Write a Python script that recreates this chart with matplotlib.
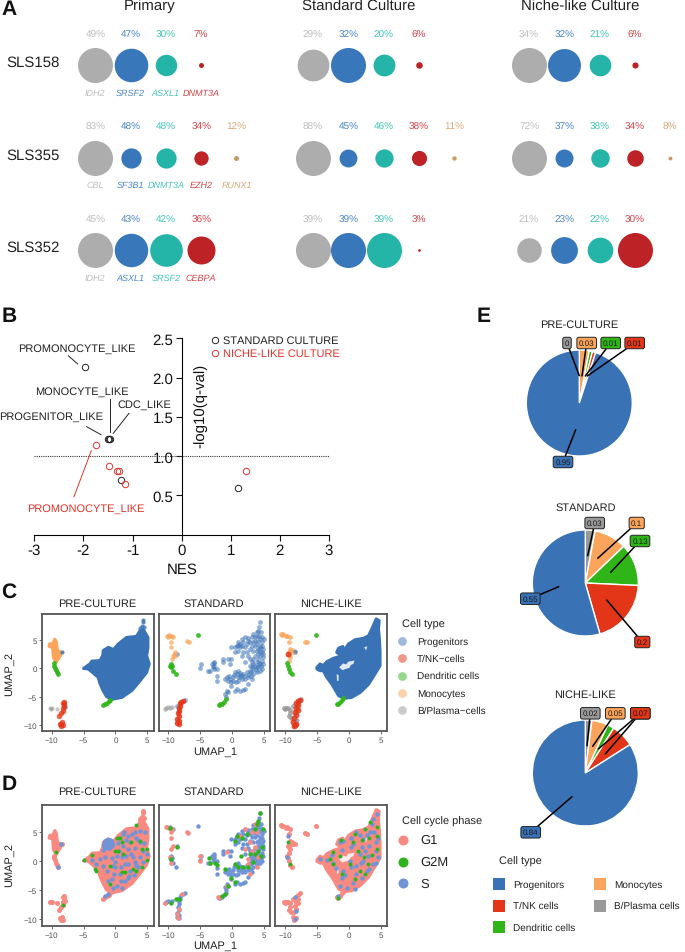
import matplotlib
matplotlib.use("Agg")
import matplotlib.pyplot as plt
from matplotlib.patches import Rectangle

plt.rcParams["font.family"] = ["Liberation Sans", "DejaVu Sans"]
plt.rcParams["axes.unicode_minus"] = False
plt.rcParams["text.hinting"] = "no_hinting"
plt.rcParams["text.hinting_factor"] = 1

W, H = 685, 953

# panel A
samples = ["SLS158", "SLS355", "SLS352"]
conditions = ["Primary", "Standard Culture", "Niche-like Culture"]
genes = [["IDH2", "SRSF2", "ASXL1", "DNMT3A"],
         ["CBL", "SF3B1", "DNMT3A", "EZH2", "RUNX1"],
         ["IDH2", "ASXL1", "SRSF2", "CEBPA"]]
vaf_primary = [[49, 47, 30, 7], [83, 48, 48, 34, 12], [45, 43, 42, 36]]
vaf_standard = [[29, 32, 20, 6], [88, 45, 46, 38, 11], [39, 39, 39, 3]]
vaf_niche = [[34, 32, 21, 6], [72, 37, 38, 34, 8], [21, 23, 22, 30]]

# panel B
std_nes = [-1.97, -1.5, -1.47, -1.45, -1.23, 1.15]
std_q = [2.14, 1.22, 1.22, 1.22, 0.69, 0.6]
niche_nes = [-1.74, -1.48, -1.31, -1.27, -1.16, 1.31]
niche_q = [1.14, 0.88, 0.81, 0.81, 0.65, 0.81]

# panels C and D, umap outlines and cells
pre_prog_outline = [(-5.0, 0.0), (-4.0, 0.8), (-3.7, 1.3), (-2.4, 1.4), (-2.0, 2.3), (-1.9, 3.2), (-1.1, 3.75),
                    (-0.3, 3.35), (0.45, 4.35), (1.75, 5.5), (3.3, 5.7), (3.85, 6.7), (4.4, 6.9), (5.1, 5.5),
                    (5.1, 3.75), (4.9, 2.25), (5.3, 0.8), (4.9, -0.7), (3.85, -2.2), (2.6, -3.9), (1.0, -5.15),
                    (-0.6, -5.5), (-1.4, -5.0), (-2.0, -3.8), (-2.45, -2.6), (-2.7, -1.6), (-3.5, -0.8), (-4.25, -0.1)]
pre_prog_cells = [(4.4, 8.6), (4.3, 8.2), (4.2, 7.6), (3.9, 7.2), (4.5, 7.3), (-8.4, 2.9), (-7.9, -6.9)]
pre_mono_outline = [(-9.5, 5.2), (-9.25, 4.65), (-9.1, 3.15), (-8.4, 2.85), (-8.8, 1.95), (-9.3, 1.1), (-9.75, 1.95),
                    (-9.85, 3.75), (-10.4, 3.9), (-10.3, 4.4), (-9.85, 4.35)]
pre_dc_cells = [(-9.65, 0.9), (-9.7, 0.5), (-9.55, 0.1), (-9.4, -0.3), (-9.2, -0.7), (-9.0, -1.0),
                (-1.9, -6.5), (-1.6, -6.3), (-1.3, -6.1), (-1.0, -5.8), (-0.8, -5.6)]
pre_tnk_cells = [(-8.0, -6.0), (-8.3, -6.2), (-8.0, -6.6), (-8.2, -7.1), (-8.3, -7.6), (-8.5, -8.0), (-8.8, -8.4),
                 (-8.4, -9.6), (-8.7, -9.9), (-8.3, -10.1), (-8.6, -10.2), (-8.1, -6.3), (-8.5, -9.8)]
pre_b_cells = [(-10.3, -7.1), (-10.0, -7.0), (-10.15, -7.15), (-9.1, -7.2)]

std_prog_cells = [(4.4, 8.2), (4.2, 7.3), (4.1, 6.7), (3.85, 6.4), (4.55, 6.4), (4.75, 5.5), (5.05, 5.2), (4.2, 5.8),
                  (3.6, 5.5), (3.35, 6.1), (3.1, 5.5), (2.55, 5.35), (2.0, 5.5), (1.5, 5.2), (1.0, 4.65), (0.7, 4.05),
                  (0.45, 3.75), (-0.2, 3.75), (1.25, 4.35), (1.75, 4.65), (2.3, 4.35), (2.8, 4.65), (3.6, 4.9),
                  (4.1, 4.9), (4.65, 4.65), (4.4, 4.05), (4.9, 3.45), (4.65, 2.85), (4.1, 3.45), (3.6, 4.05),
                  (3.85, 3.15), (4.4, 2.25), (4.9, 2.0), (4.65, 1.4), (4.1, 1.7), (3.6, 2.25), (3.35, 1.7), (3.85, 1.1),
                  (4.4, 0.8), (4.9, 0.8), (4.65, -0.1), (4.1, 0.2), (3.6, 0.5), (3.1, 1.1), (2.8, 0.5), (3.35, -0.1),
                  (3.85, -0.7), (3.35, -1.0), (2.8, -0.4), (2.3, -0.7), (1.75, -1.0), (2.55, -1.6), (2.0, -1.9),
                  (1.25, -1.6), (0.7, -1.0), (1.0, -0.4), (0.45, -0.7), (0.2, -1.6), (-0.3, -1.9), (-0.85, -1.6),
                  (-0.6, -2.2), (0.2, -2.2), (1.0, -2.2), (1.5, -1.9), (3.1, -1.9), (2.55, -2.8), (2.8, 3.45),
                  (2.3, 2.85), (2.55, 2.25), (1.75, 2.85), (2.0, 3.75), (1.25, 3.75), (1.5, 2.25), (2.0, 1.1),
                  (0.45, 2.85), (1.0, 3.15), (-0.1, 1.7), (-0.7, 1.7), (-1.4, 1.7), (-1.4, 1.1), (-0.3, 0.8),
                  (-2.8, 1.1), (-2.9, 0.5), (-3.2, 0.8), (-2.4, -0.1), (-2.9, -0.1), (-3.5, -0.4), (-3.7, -0.4),
                  (-2.3, -1.3), (-4.9, 0.8), (-5.0, 0.1), (-2.3, -2.2), (-1.1, -1.9), (-0.1, -3.1), (0.45, -4.0),
                  (1.75, -3.8), (1.25, -4.0), (0.7, -3.7), (2.0, -3.7), (-0.85, -4.0), (-1.1, -4.55), (-0.7, -4.25),
                  (-1.0, -5.0), (-7.4, -5.6), (-8.7, -6.6), (-8.6, 2.6), (3.1, 4.05), (3.35, 3.15), (4.1, 2.6),
                  (2.8, 1.7), (3.1, 0.2), (4.3, -0.4), (1.25, -0.9), (-2.9, 0.9), (-3.0, 0.3),
                  (3.9, 5.8), (4.4, 5.2), (3.3, 4.7), (2.5, 4.9), (1.5, 4.0), (0.9, 4.2), (3.9, 4.4), (4.4, 3.6),
                  (4.7, 3.9), (4.3, 3.0), (4.9, 2.5), (4.2, 1.0), (4.6, 0.4), (3.9, 0.2), (3.3, 0.7), (3.7, -0.3),
                  (3.0, -0.6), (2.5, -1.1), (2.9, -1.4), (1.9, -1.4), (1.4, -1.2), (0.9, -1.6), (0.3, -1.1),
                  (-0.5, -1.4), (-0.2, -2.4), (0.6, -2.4)]
std_mono_cells = [(-10.25, 5.8), (-9.75, 5.8), (-9.2, 5.5), (-10.0, 5.65), (-9.5, 4.65), (-9.5, 3.75), (-8.95, 2.85),
                  (-9.2, 2.25), (-9.4, 1.7), (-7.1, 4.8), (-6.75, 4.65), (-9.9, 5.95), (-9.4, 5.7), (-9.1, 2.6),
                  (-8.9, 2.2)]
std_dc_cells = [(-5.3, 6.0), (-9.6, 0.8), (-9.5, 0.2), (-9.2, -0.4), (-8.85, -1.0), (-9.7, 0.4), (-9.35, 0.5),
                (-2.05, -6.45), (-1.6, -6.3), (-1.2, -5.9), (-0.9, -5.45), (-1.85, -6.4)]
std_tnk_cells = [(-8.0, -5.9), (-7.65, -5.7), (-8.2, -6.6), (-8.3, -7.5), (-8.4, -8.4), (-8.4, -9.3), (-8.3, -9.9),
                 (-8.1, -6.2), (-8.3, -7.0), (-8.5, -8.0), (-8.6, -8.9), (-8.6, -9.7)]
std_b_cells = [(-10.5, -7.2), (-10.1, -6.9), (-9.4, -6.9), (-9.7, -7.1), (-10.3, -7.1)]

niche_prog_outline = [(-5.0, 0.2), (-4.5, 0.8), (-4.0, 0.5), (-3.45, 1.2), (-2.4, 1.8), (-1.1, 2.25), (-1.9, 2.85),
                      (-1.6, 3.6), (-0.95, 3.9), (-0.75, 3.15), (-0.05, 4.35), (1.0, 5.1), (2.3, 5.35), (3.1, 5.8),
                      (3.6, 7.0), (4.3, 8.8), (4.75, 8.5), (4.65, 7.0), (4.8, 5.2), (4.9, 2.85), (4.9, 0.5), (4.1, -1.0),
                      (3.1, -2.8), (1.8, -4.25), (0.45, -5.15), (-0.75, -5.3), (-1.6, -4.85), (-2.65, -2.8),
                      (-3.45, -1.6), (-4.0, -0.4), (-4.5, -0.4), (-5.0, -0.1)]
niche_hole_a = [(-1.5, 0.2), (-0.9, 0.9), (-0.4, 0.7), (-0.1, 1.2), (0.9, 1.4), (0.7, 0.8), (0.3, 0.6), (0.1, 0.1),
                (-0.5, -0.1), (-1.0, -0.3)]
niche_hole_b = [(-1.9, -1.0), (-1.6, -1.2), (-1.6, -2.2), (-1.85, -2.2)]
niche_hole_c = [(2.4, 3.8), (2.9, 3.9), (2.7, 3.2)]
niche_mono_cells = [(-10.7, 6.1), (-10.25, 6.05), (-9.7, 5.8), (-9.2, 5.5), (-9.3, 4.65), (-6.85, 4.75), (-6.6, 4.65),
                    (-9.2, 3.45), (-8.95, 2.85), (-9.2, 2.0), (-9.45, 1.4), (-10.5, 5.9), (-9.9, 5.7), (-9.4, 3.0),
                    (-9.4, 2.4), (-8.9, 3.3)]
niche_dc_cells = [(-5.2, 5.95), (-9.6, 0.5), (-9.45, -0.1), (-9.2, -0.7), (-8.85, -1.05), (-9.7, 0.9),
                  (-1.9, -6.3), (-1.45, -6.0), (-1.1, -5.6), (-0.85, -5.3), (-1.7, -6.4)]
niche_tnk_cells = [(-7.7, -5.6), (-8.0, -5.8), (-8.3, -6.2), (-7.9, -6.5), (-8.3, -7.0), (-8.0, -7.3), (-8.5, -7.8),
                   (-8.3, -8.3), (-8.6, -8.8), (-8.7, -9.6), (-8.4, -10.0), (-8.6, -10.2), (-8.2, -9.8), (-9.5, 2.55)]
niche_b_cells = [(-10.2, -7.1), (-9.9, -7.0), (-9.5, -7.0), (-9.2, -7.3), (-9.2, -7.9), (-9.3, -8.4), (-9.0, -8.8),
                 (-8.8, -6.6), (-8.4, 2.85), (-10.0, -7.2)]
niche_blue_specks = [(-7.5, -5.4), (-8.1, -9.1), (-8.5, 3.1)]

# panel D, phase calls
pre_s_patch = [(-1.9, 2.6), (-1.65, 3.45), (-1.1, 3.75), (-0.45, 3.45), (-0.25, 2.6), (-0.85, 2.0), (-1.65, 2.1)]
pre_s_cells = [(1.2, 4.6), (2.0, 4.3), (3.1, 4.9), (3.6, 3.5), (2.3, 3.2), (3.85, 3.2), (1.2, 2.6), (2.0, 2.0),
               (4.4, 1.7), (0.2, 0.9), (1.0, 0.6), (2.5, 1.2), (3.85, 0.6), (1.5, -0.55), (3.1, -0.25), (-0.05, -1.1),
               (0.7, -2.3), (2.3, -1.7), (3.6, -1.1), (-0.6, -3.1), (0.2, -4.4), (-1.1, -5.7), (-1.6, -6.1),
               (1.5, -3.4), (-2.4, 0.3), (-3.0, -0.55), (-9.0, -1.0), (-8.6, 2.9),
               (0.5, 4.0), (1.6, 3.6), (2.6, 4.6), (3.2, 3.9), (4.5, 3.0), (4.9, 1.2), (4.4, -0.2), (3.3, -0.8),
               (2.8, 0.6), (1.7, 0.9), (0.6, 1.6), (-0.6, 0.5), (-1.6, 0.7), (-2.0, -0.9), (-1.3, -1.7), (0.0, -0.2),
               (0.9, -1.0), (1.9, -0.6), (2.9, -2.4), (1.9, -3.0), (0.9, -3.4), (-0.2, -2.2), (-1.2, -3.4),
               (-0.4, -4.6), (1.0, -4.6), (-3.6, 0.2), (-1.9, 1.8), (1.4, 5.0), (3.8, 5.2), (4.6, 4.9), (-0.4, -0.9),
               (2.2, -2.6), (3.0, 2.2), (0.4, 3.0)]
pre_g2m_cells = [(3.3, 6.15), (0.7, 4.0), (0.2, 3.85), (2.4, 3.2), (3.85, 3.45), (5.0, 2.0), (4.1, 2.0), (-0.05, 1.7),
                 (0.45, 1.7), (1.2, 1.15), (-3.7, 1.0), (-5.0, 0.1), (5.0, 0.2), (-0.85, -0.85), (2.8, -1.4),
                 (3.3, -1.7), (1.0, -1.9), (1.5, -2.0), (-0.85, -4.0), (-3.2, -1.4), (-3.0, -1.7), (4.1, -1.1),
                 (1.0, 3.2), (-9.4, 1.45), (-8.2, -7.6)]
std_g2m_cells = [(4.4, 8.2), (4.1, 6.9), (3.85, 6.3), (4.9, 5.5), (3.6, 5.5), (0.7, 4.3), (1.6, 4.0), (2.3, 4.6),
                 (0.45, 3.45), (4.65, 2.3), (3.6, 1.15), (4.1, 1.75), (2.8, 1.15), (1.4, 0.75), (4.55, 0.9),
                 (3.35, -0.25), (0.45, -0.55), (1.75, -1.1), (2.55, -1.1), (1.0, -1.1), (-1.1, -1.4), (-3.6, 0.4),
                 (-3.5, -0.4), (-2.4, -0.7), (-2.7, -0.3), (-0.15, -3.0), (0.45, -3.7), (-0.7, -4.4), (-1.6, -6.0),
                 (-1.1, -5.7), (-8.65, 2.3), (-9.5, 0.3), (-9.75, 5.6), (-9.5, -7.3), (-8.3, -6.6), (-8.85, -6.6)]
std_g1_cells = [(3.6, 6.3), (3.1, 4.9), (2.0, 5.45), (1.25, 4.3), (3.85, 4.9), (2.8, 3.2), (2.0, 2.0), (3.1, 1.7),
                (2.55, 0.3), (3.6, 2.3), (4.1, 0.6), (3.85, -1.1), (2.55, -0.55), (2.8, -2.3), (-0.85, 1.45),
                (-2.15, -6.3), (-0.85, -4.4), (-5.0, 0.75), (-5.0, 0.0), (-1.9, -6.3), (-10.4, 5.75), (-9.9, 5.6),
                (-9.4, 5.45), (-9.6, 4.9), (-9.6, 3.85), (-9.2, 2.6), (-9.5, 2.0), (-9.75, 0.6), (-9.5, -0.3),
                (-7.1, 4.9), (-6.85, 4.7), (-7.9, -5.7), (-10.5, -7.3), (-8.3, -8.3), (-8.7, -9.15), (-8.5, -9.8)]
niche_s_cells = [(4.4, 8.0), (3.85, 7.2), (3.6, 6.3), (-1.4, 3.2), (-0.9, 3.45), (0.7, 2.9), (2.3, 3.7), (4.6, 4.0),
                 (1.2, 4.9), (3.3, 4.9), (0.2, 0.0), (1.75, 1.2), (3.85, -0.6), (-2.45, -0.3), (-4.5, 0.3), (-0.9, -1.7),
                 (1.2, -2.3), (2.8, -1.7), (-0.35, -4.6), (-1.65, -6.0), (4.6, 0.6), (2.3, 0.0), (-9.5, 4.3),
                 (-9.75, 0.6), (-8.45, -6.3), (-8.3, -8.6), (-8.45, -10.0),
                 (0.4, 3.9), (1.7, 4.4), (2.8, 4.4), (3.9, 4.9), (4.2, 3.2), (3.2, 2.6), (2.0, 2.4), (0.4, 2.4),
                 (-1.0, 1.9), (-2.6, 1.0), (-3.4, 0.2), (-2.0, -1.2), (-1.0, -3.0), (0.4, -1.0), (1.9, -0.4), (3.0, 0.8),
                 (4.2, 1.6), (4.2, -0.4), (3.2, -1.4), (2.0, -3.0), (0.6, -3.8), (-0.6, -2.4), (1.1, -0.9), (2.6, 1.6),
                 (-1.4, -4.4), (0.9, -4.8)]
niche_g2m_cells = [(-1.15, 3.55), (1.0, 4.6), (2.55, 5.45), (4.4, 4.3), (4.4, 2.0), (1.5, 1.75), (0.2, -0.55),
                   (1.75, -1.7), (3.05, -0.55), (-1.75, -6.45), (-3.0, 0.3), (-2.45, 1.45), (4.4, 5.75), (3.3, 6.6),
                   (-9.5, 3.2), (-9.2, -0.55), (2.0, 3.6), (3.2, 3.9), (0.6, 3.2), (-1.4, 0.8), (-2.4, -0.6),
                   (0.9, -3.2), (2.6, -2.2), (3.6, 1.0), (-1.0, -2.2), (2.4, 0.6)]

celltype_names_c = ["Progenitors", "T/NK\u2212cells", "Dendritic cells", "Monocytes", "B/Plasma\u2212cells"]
phase_names = ["G1", "G2M", "S"]
umap_ticks = [-10, -5, 0, 5]
umap_ticklabels = ["\u221210", "\u22125", "0", "5"]
umap_panels = ["PRE-CULTURE", "STANDARD", "NICHE-LIKE"]

# panel E
pie_order = ["B/Plasma cells", "Monocytes", "Dendritic cells", "T/NK cells", "Progenitors"]
pie_pre = [0, 0.03, 0.01, 0.01, 0.95]
pie_standard = [0.03, 0.1, 0.13, 0.2, 0.55]
pie_niche = [0.02, 0.05, 0.02, 0.07, 0.84]

BLUE, RED, GREEN, ORANGE, GREY = "#3A72B6", "#E33518", "#2FB518", "#FBA45B", "#999999"
G1_COL, G2M_COL, S_COL = "#F88A82", "#2EB31E", "#7094D6"


def px_axes(left, top, right, bottom):
    return fig.add_axes([left / W, 1 - bottom / H, (right - left) / W, (bottom - top) / H])


def xy(cells):
    return [c[0] for c in cells], [c[1] for c in cells]


fig = plt.figure(figsize=(W / 100, H / 100), dpi=100, facecolor="white")

# overlay in pixels for all the loose text
ov = fig.add_axes([0, 0, 1, 1], zorder=10)
ov.set_xlim(0, W)
ov.set_ylim(H, 0)
ov.axis("off")
ov.patch.set_alpha(0)

for label, x, y in [("A", 9, 10), ("B", 9, 317), ("C", 9, 592), ("D", 9, 785), ("E", 484, 317)]:
    ov.text(x, y, label, fontsize=15, fontweight="bold", ha="center", va="center", color="#111111")

# A
bubble_cols = ["#ADADAD", "#3878BA", "#25B5A8", "#BC2226", "#C89B66"]
text_cols = ["#BDBDBD", "#4A86C8", "#45C4B4", "#D2444A", "#D4A87A"]
cond_x = [95.3, 313, 529]
title_x = [150, 359, 580]
row_y = [66, 158.7, 251.3]
for c, vaf in enumerate([vaf_primary, vaf_standard, vaf_niche]):
    ov.text(title_x[c], 6.5, conditions[c], fontsize=10.8, ha="center", va="center", color="#222222")
    for r, row in enumerate(vaf):
        biggest = max(row)
        for i, v in enumerate(row):
            x = cond_x[c] + i * 35.3
            ov.scatter([x], [row_y[r]], s=(35 * 0.72 * v / biggest) ** 2, color=bubble_cols[i], linewidths=0)
            ov.text(x, row_y[r] - 31, f"{v}%", fontsize=7, color=text_cols[i], ha="center", va="center")
            if c == 0:
                ov.text(x, row_y[r] + 27.3, genes[r][i], fontsize=6.2, style="italic", color=text_cols[i],
                        ha="center", va="center")
for r, name in enumerate(samples):
    ov.text(6, row_y[r] - 3, name, fontsize=10.6, ha="left", va="center", color="#222222")

# B
ax = px_axes(34.3, 339.3, 329, 535.7)
ax.set_xlim(-3, 3)
ax.set_ylim(0, 2.5)
ax.patch.set_alpha(0)
ax.plot(std_nes, std_q, "o", mfc="none", mec="#222222", ms=4.6, mew=0.7, ls="none")
ax.plot(niche_nes, niche_q, "o", mfc="none", mec="#E0352B", ms=4.6, mew=0.7, ls="none")
ax.axhline(1, color="#333333", lw=0.8, ls=(0, (1, 1)))
for s in ["top", "right"]:
    ax.spines[s].set_visible(False)
ax.spines["left"].set_position(("data", 0))
ax.spines["left"].set_linewidth(0.8)
ax.spines["bottom"].set_linewidth(0.8)
ax.set_xticks(range(-3, 4))
ax.set_yticks([0.5, 1.0, 1.5, 2.0, 2.5])
ax.tick_params(labelsize=11, length=4, width=0.8, pad=2, colors="#111111")
ov.text(182, 570, "NES", fontsize=10.8, ha="center", va="center", color="#111111")
ov.text(200, 406, "-log10(q-val)", fontsize=10.6, rotation=90, ha="center", va="center", color="#111111")
ov.plot([215], [341.3], "o", mfc="none", mec="#222222", ms=4.6, mew=0.7)
ov.plot([215], [354.3], "o", mfc="none", mec="#E0352B", ms=4.6, mew=0.7)
ov.text(223, 341.3, "STANDARD CULTURE", fontsize=7.8, ha="left", va="center", color="#222222")
ov.text(223, 354.3, "NICHE-LIKE CULTURE", fontsize=7.8, ha="left", va="center", color="#E0352B")
b_labels = [("PROMONOCYTE_LIKE", 77, 349, (68.3, 356.7), (77.7, 365), "#222222"),
            ("MONOCYTE_LIKE", 81.7, 392, (110, 400), (110, 432.7), "#222222"),
            ("CDC_LIKE", 144.7, 405, (129, 414.3), (113.3, 434.3), "#222222"),
            ("PROGENITOR_LIKE", 51.5, 417.3, (86.7, 427.7), (101, 435.7), "#222222"),
            ("PROMONOCYTE_LIKE", 86, 509, (74, 497.7), (91.3, 451.7), "#E0352B")]
for text, x, y, p0, p1, col in b_labels:
    ov.text(x, y, text, fontsize=7.8, ha="center", va="center", color=col)
    ov.plot([p0[0], p1[0]], [p0[1], p1[1]], color=col, lw=0.7)


# C and D
def umap_axes(left, right, top, bottom, yt5, yt10, xt10, show_y):
    a = px_axes(left, top, right, bottom)
    sx = (xt10[1] - xt10[0]) / 15
    sy = (yt10 - yt5) / 15
    a.set_xlim(-10 - (xt10[0] - left) / sx, 5 + (right - xt10[1]) / sx)
    a.set_ylim(-10 - (bottom - yt10) / sy, 5 + (yt5 - top) / sy)
    a.set_xticks(umap_ticks)
    a.set_xticklabels(umap_ticklabels)
    a.set_yticks(umap_ticks)
    a.set_yticklabels(umap_ticklabels if show_y else [])
    a.tick_params(labelsize=5.8, length=2, width=0.6, pad=1.5, colors="#4D4D4D", left=show_y)
    for s in a.spines.values():
        s.set_linewidth(1.3)
        s.set_color("#555555")
    return a


def blob(a, outline, col):
    a.fill(*xy(outline), color=col, lw=2.2, joinstyle="round")


def cells(a, pts, col, alpha=0.55, size=9, z=3):
    a.scatter(*xy(pts), s=size, color=col, alpha=alpha, linewidths=0, zorder=z)


panels_x = [(41.7, 153.7, (51.7, 147.3)), (158.5, 269.7, (168.3, 264)), (275.3, 387, (285, 380.7))]
c_axes = [umap_axes(l, r, 615.3, 732.3, 641.3, 725.7, t, i == 0) for i, (l, r, t) in enumerate(panels_x)]
d_axes = [umap_axes(l, r, 806, 927.3, 832.7, 920, t, i == 0) for i, (l, r, t) in enumerate(panels_x)]

a = c_axes[0]
blob(a, pre_prog_outline, BLUE)
blob(a, pre_mono_outline, ORANGE)
cells(a, pre_prog_cells, BLUE, alpha=0.8)
cells(a, pre_dc_cells, GREEN, alpha=0.9, size=12)
cells(a, pre_tnk_cells, RED, alpha=0.75, size=16)
cells(a, pre_b_cells, GREY)

a = c_axes[1]
cells(a, std_prog_cells, BLUE, size=12)
cells(a, std_mono_cells, ORANGE, alpha=0.7, size=11)
cells(a, std_dc_cells, GREEN, alpha=0.9, size=12)
cells(a, std_tnk_cells, RED, alpha=0.85, size=16)
cells(a, std_b_cells, GREY, size=11)

a = c_axes[2]
blob(a, niche_prog_outline, BLUE)
for hole in [niche_hole_a, niche_hole_b, niche_hole_c]:
    a.fill(*xy(hole), color="white", alpha=0.85, lw=0, zorder=2)
cells(a, niche_b_cells, GREY, alpha=0.8, size=12)
cells(a, niche_mono_cells, ORANGE, alpha=0.75, size=12)
cells(a, niche_dc_cells, GREEN, alpha=0.9, size=12)
cells(a, niche_tnk_cells, RED, alpha=0.85, size=18, z=4)
cells(a, niche_blue_specks, BLUE)

a = d_axes[0]
blob(a, pre_prog_outline, G1_COL)
blob(a, pre_mono_outline, G1_COL)
blob(a, pre_s_patch, S_COL)
cells(a, pre_prog_cells + pre_dc_cells + pre_tnk_cells + pre_b_cells, G1_COL, alpha=1, size=13)
cells(a, pre_s_cells, S_COL, alpha=1, size=10, z=4)
cells(a, pre_g2m_cells, G2M_COL, alpha=1, size=8, z=5)

a = d_axes[1]
cells(a, std_prog_cells + std_dc_cells + std_tnk_cells + std_b_cells + std_mono_cells[:3], S_COL, alpha=1, size=10)
cells(a, std_g1_cells, G1_COL, alpha=1, size=11, z=4)
cells(a, std_g2m_cells, G2M_COL, alpha=1, size=10, z=5)

a = d_axes[2]
blob(a, niche_prog_outline, G1_COL)
for hole in [niche_hole_a, niche_hole_b, niche_hole_c]:
    a.fill(*xy(hole), color="white", alpha=0.85, lw=0, zorder=2)
cells(a, niche_mono_cells + niche_dc_cells + niche_tnk_cells + niche_b_cells, G1_COL, alpha=1, size=13)
cells(a, niche_s_cells, S_COL, alpha=1, size=10, z=4)
cells(a, niche_g2m_cells, G2M_COL, alpha=1, size=8, z=5)

for i, name in enumerate(umap_panels):
    cx = (panels_x[i][0] + panels_x[i][1]) / 2
    ov.text(cx, 604, name, fontsize=8, ha="center", va="center", color="#222222")
    ov.text(cx, 791.7, name, fontsize=8, ha="center", va="center", color="#222222")
for y1, y2 in [(751.7, 674), (945.5, 865)]:
    ov.text(215, y1, "UMAP_1", fontsize=8, ha="center", va="center", color="#222222")
    ov.text(9, y2, "UMAP_2", fontsize=8, rotation=90, ha="center", va="center", color="#222222")

ov.text(401.7, 625, "Cell type", fontsize=7.8, ha="left", va="center", color="#222222")
for i, (name, col) in enumerate(zip(celltype_names_c, [BLUE, RED, GREEN, ORANGE, GREY])):
    y = 575 + (201 + i * 52) / 3
    ov.scatter([401.7], [y], s=40, color=col, alpha=0.5, linewidths=0)
    ov.text(416.7, y, name, fontsize=7.5, ha="left", va="center", color="#222222")
ov.text(401.7, 822, "Cell cycle phase", fontsize=7.8, ha="left", va="center", color="#222222")
for i, (name, col) in enumerate(zip(phase_names, [G1_COL, G2M_COL, S_COL])):
    y = 765 + (228 + i * 65) / 3
    ov.scatter([403.3], [y], s=52, color=col, linewidths=0)
    ov.text(420, y, name, fontsize=9, ha="left", va="center", color="#222222")

# E
pie_cols = [GREY, ORANGE, GREEN, RED, BLUE]
box_layout = [
    ("PRE-CULTURE", 579.3, 404, 325, pie_pre,
     [(567, 344), (586.7, 344), (610.7, 344), (634.7, 344), (563, 463)],
     [(579.3, 376.7), (582, 377), (585.3, 377), (587.3, 377), (575.7, 430.7)]),
    ("STANDARD", 585.3, 584, 507.7, pie_standard,
     [(594.7, 524), (636.7, 524), (640, 542), (642.3, 643), (530.3, 599.7)],
     [(587.7, 556.7), (597.7, 559.3), (610.7, 573.3), (606.7, 601), (558.7, 587.7)]),
    ("NICHE-LIKE", 585.3, 774, 695, pie_niche,
     [(590.3, 714.3), (615.3, 714.3), (640.3, 714.3), (640.3, 714.3), (530.7, 833.3)],
     [(587, 746.7), (592.7, 747.3), (598.3, 750), (605.3, 755), (572, 797.7)]),
]
for name, cx, cy, ty, vals, boxes, ends in box_layout:
    a = px_axes(cx - 55, cy - 55, cx + 55, cy + 55)
    a.pie(vals, colors=pie_cols, startangle=90, counterclock=False, radius=1,
          wedgeprops={"edgecolor": "white", "linewidth": 1.0})
    a.set_xlim(-55 / 53, 55 / 53)
    a.set_ylim(-55 / 53, 55 / 53)
    ov.text(cx, ty, name, fontsize=8, ha="center", va="center", color="#222222")
    for v, col, b, e in zip(vals, pie_cols, boxes, ends):
        ov.annotate(f"{v:g}", xy=e, xytext=b, fontsize=5.8, ha="center", va="center", color="#1A1A1A",
                    bbox={"boxstyle": "round,pad=0.25", "fc": col, "ec": "#222222", "lw": 0.7},
                    arrowprops={"arrowstyle": "-", "color": "black", "lw": 1.1, "shrinkA": 0, "shrinkB": 0})

ov.text(499.3, 862.3, "Cell type", fontsize=7.8, ha="left", va="center", color="#222222")
legend_e = [("Progenitors", BLUE, 499.3, 885), ("T/NK cells", RED, 499.3, 906.7), ("Dendritic cells", GREEN, 499.3, 928.3),
            ("Monocytes", ORANGE, 600.3, 885), ("B/Plasma cells", GREY, 600.3, 906.7)]
for name, col, x, y in legend_e:
    ov.add_patch(Rectangle((x - 6, y - 6), 12, 12, color=col, lw=0))
    ov.text(x + 14, y, name, fontsize=7.5, ha="left", va="center", color="#222222")

fig.savefig("out.png", dpi=100)
